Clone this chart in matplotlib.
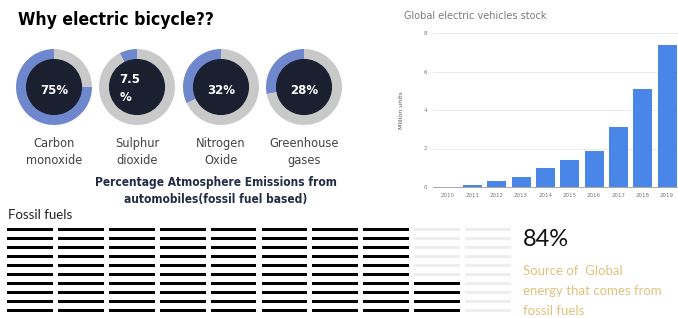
import matplotlib
matplotlib.use("Agg")
import matplotlib.pyplot as plt
from matplotlib import font_manager
import numpy as np

W, H = 678, 318

# donut data
gas_labels = ["Carbon\nmonoxide", "Sulphur\ndioxide", "Nitrogen\nOxide", "Greenhouse\ngases"]
gas_values = [75, 7.5, 32, 28]
gas_texts = ["75%", "7.5\n%", "32%", "28%"]

# EV stock data (million units)
ev_years = ["2010", "2011", "2012", "2013", "2014", "2015", "2016", "2017", "2018", "2019"]
ev_stock = [0.02, 0.12, 0.33, 0.5, 0.99, 1.4, 1.89, 3.1, 5.09, 7.36]
ev_ticks = [0, 2, 4, 6, 8]

# fossil fuel share
fossil_pct = 84
grid_cols, grid_rows = 10, 10

BLUE = "#6f87cc"
RING = "#c9c9c9"
CENTER = "#1b2030"
NAVY = "#222c45"
GOLD = "#dfc27e"

# is there a condensed bold face around? otherwise shrink the headline
cond = font_manager.FontProperties(family="DejaVu Sans", weight="bold", stretch="condensed")
has_cond = "Condensed" in font_manager.findfont(cond, fallback_to_default=True)
title_size = 12.6 if has_cond else 11.0
sub_size = 8.6 if has_cond else 7.5


def fig_box(x, y, w, h):
    # pixel box (top-left origin) -> figure coords
    return [x / W, 1 - (y + h) / H, w / W, h / H]


fig = plt.figure(figsize=(W / 100, H / 100), dpi=100)
fig.patch.set_facecolor("white")

fig.text(18 / W, 1 - 20 / H, "Why electric bicycle??", family="DejaVu Sans", weight="heavy",
         stretch="condensed", fontsize=title_size, color="black", va="center", ha="left")

# donuts
centers = [54, 137, 221, 304]
r = 38
for cx, val, lab, txt in zip(centers, gas_values, gas_labels, gas_texts):
    ax = fig.add_axes(fig_box(cx - r, 87 - r, 2 * r, 2 * r))
    ax.pie([val, 100 - val], colors=[BLUE, RING], startangle=90, counterclock=True,
           radius=1, wedgeprops=dict(width=0.29, linewidth=0))
    ax.add_patch(plt.Circle((0, 0), 0.72, color=CENTER, zorder=5))
    if "\n" in txt:
        ax.text(-0.18, -0.05, txt, ha="center", va="center", color="white", fontsize=8.5,
                weight="bold", zorder=6, multialignment="left", linespacing=1.5)
    else:
        ax.text(0, -0.08, txt, ha="center", va="center", color="white", fontsize=8.5,
                weight="bold", zorder=6)
    ax.set_xlim(-1, 1)
    ax.set_ylim(-1, 1)
    ax.set_aspect("equal")
    ax.axis("off")
    fig.text(cx / W, 1 - 152 / H, lab, ha="center", va="center", fontsize=8.3,
             color="#444444", linespacing=1.45)

fig.text(216 / W, 1 - 191 / H, "Percentage Atmosphere Emissions from\nautomobiles(fossil fuel based)",
         ha="center", va="center", family="DejaVu Sans", weight="bold", stretch="condensed",
         fontsize=sub_size, color=NAVY, linespacing=1.4)

# EV stock bar chart
ax = fig.add_axes(fig_box(433, 33, 245, 154))
x = np.arange(len(ev_years))
ax.bar(x, ev_stock, width=0.78, color="#4a86e8", zorder=3)
ax.set_xlim(-0.62, 9.45)
ax.set_ylim(0, 8)
ax.set_yticks(ev_ticks)
ax.set_xticks(x)
ax.set_xticklabels(ev_years)
ax.tick_params(length=0, labelsize=4, labelcolor="#777777", pad=4)
ax.grid(axis="y", color="#e6e6e6", linewidth=0.6, zorder=0)
for s in ["top", "right", "left"]:
    ax.spines[s].set_visible(False)
ax.spines["bottom"].set_color("#999999")
ax.spines["bottom"].set_linewidth(0.6)
ax.set_ylabel("Million units", fontsize=4.5, color="#555555", labelpad=14)
fig.text(404 / W, 1 - 16 / H, "Global electric vehicles stock", fontsize=7,
         color="#7a7a7a", va="center", ha="left")

# fossil fuel grid
fig.text(8 / W, 1 - 215 / H, "Fossil fuels", fontsize=9.5, color="#222222",
         va="center", ha="left", family=["Lato", "DejaVu Sans"])
ax = fig.add_axes(fig_box(7, 225, 504, 90))
for c in range(grid_cols):
    for rr in range(grid_rows):
        k = c * grid_rows + rr  # fill each column from the bottom
        col = "black" if k < fossil_pct else "#eeeeee"
        ax.barh(rr, 0.9, left=c, height=0.42, color=col)
ax.set_xlim(0, grid_cols - 0.1)
ax.set_ylim(-0.5, grid_rows - 0.5)
ax.axis("off")

fig.text(523 / W, 1 - 240 / H, f"{fossil_pct}%", fontsize=17, color="#111111",
         va="center", ha="left", family=["Lato", "DejaVu Sans"])
fig.text(523 / W, 1 - 265 / H, "Source of  Global\nenergy that comes from\nfossil fuels",
         fontsize=9.5, color=GOLD, va="top", ha="left", linespacing=1.8,
         family=["Lato", "DejaVu Sans"])

fig.savefig("out.png", dpi=100)
